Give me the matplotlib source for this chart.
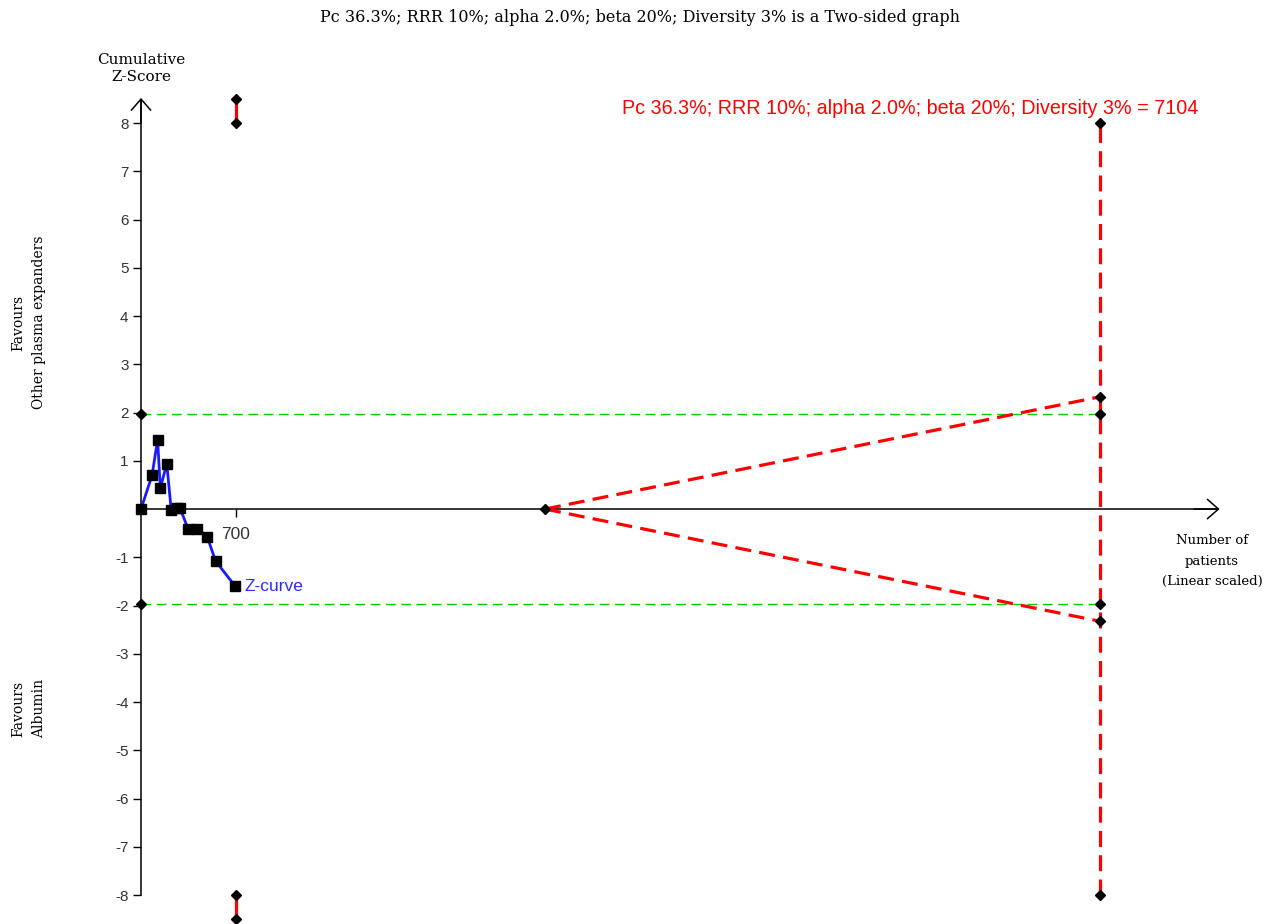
import matplotlib
matplotlib.use("Agg")
import matplotlib.pyplot as plt

# Cumulative meta-analysis: patients accrued and cumulative Z-score
patients = [0, 82, 123, 143, 191, 224, 267, 289, 350, 414, 490, 553, 698]
z_scores = [0.0, 0.70, 1.44, 0.43, 0.94, -0.03, 0.02, 0.02, -0.42, -0.42, -0.57, -1.08, -1.60]

# Trial sequential analysis settings
required_size = 7104          # required information size
boundary_start = 2993         # patients where the alpha-spending boundary leaves zero
boundary_end = 2.326          # boundary Z at the required information size
conventional = 1.96           # conventional two-sided 5% significance
off_scale_x = 700             # boundary point beyond the plotted range
off_scale_z = 8.5
z_limit = 8

y_ticks = [-8, -7, -6, -5, -4, -3, -2, -1, 1, 2, 3, 4, 5, 6, 7, 8]
x_ticks = [700]

title = "Pc 36.3%; RRR 10%; alpha 2.0%; beta 20%; Diversity 3% is a Two-sided graph"
ris_label = "Pc 36.3%; RRR 10%; alpha 2.0%; beta 20%; Diversity 3% = 7104"

serif = ["DejaVu Serif"]
sans = ["Liberation Sans", "DejaVu Sans"]

fig = plt.figure(figsize=(12.72, 9.24), dpi=100)
ax = fig.add_axes([0, 0, 1, 1])
ax.set_xlim(-1044.5, 8378)
ax.set_ylim(-8.60, 10.55)

# axes through the origin
for side in ("top", "right"):
    ax.spines[side].set_visible(False)
ax.spines["left"].set_position(("data", 0))
ax.spines["bottom"].set_position(("data", 0))
ax.spines["left"].set_bounds(-8.0, 8.45)
ax.spines["bottom"].set_bounds(0, 7960)
for side in ("left", "bottom"):
    ax.spines[side].set_linewidth(1.1)
    ax.spines[side].set_color("black")
ax.set_yticks(y_ticks)
ax.set_yticklabels([str(t) for t in y_ticks])
ax.set_xticks(x_ticks)
ax.set_xticklabels([str(t) for t in x_ticks])
ax.tick_params(axis="y", direction="out", length=6, width=1.0, pad=3,
               labelsize=11, labelcolor="#333333")
ax.tick_params(axis="x", direction="out", length=6, width=1.0, pad=7,
               labelsize=12.5, labelcolor="#333333")
for lbl in ax.get_xticklabels() + ax.get_yticklabels():
    lbl.set_fontfamily(sans)
ax.patch.set_visible(False)

# arrow heads on both axes
arrow = dict(arrowstyle="->,head_length=0.8,head_width=0.7", lw=1.1, color="black",
             shrinkA=0, shrinkB=0)
ax.annotate("", xy=(7990, 0), xytext=(7800, 0), arrowprops=arrow)
ax.annotate("", xy=(0, 8.52), xytext=(0, 8.0), arrowprops=arrow)

# conventional boundaries
for sgn in (1, -1):
    ax.plot([0, required_size], [sgn * conventional] * 2, color="#00cc00",
            lw=1.0, dashes=(7, 4), zorder=2)

# alpha-spending boundaries
for sgn in (1, -1):
    ax.plot([boundary_start, required_size], [0, sgn * boundary_end], color="red",
            lw=2.3, dashes=(5, 2.6), zorder=3)
    ax.plot([off_scale_x, off_scale_x], [sgn * z_limit, sgn * off_scale_z],
            color="red", lw=2.3, solid_capstyle="butt", zorder=3)

# required information size
ax.plot([required_size, required_size], [-z_limit, z_limit], color="red",
        lw=2.3, dashes=(5, 2.6), zorder=3)

# boundary markers
mk = dict(marker="D", color="black", markersize=5.0, linestyle="none", zorder=5)
ax.plot([0, 0, required_size, required_size], [conventional, -conventional,
        conventional, -conventional], **mk)
ax.plot([required_size, required_size, required_size, required_size],
        [boundary_end, -boundary_end, z_limit, -z_limit], **mk)
ax.plot([boundary_start], [0], **mk)
ax.plot([off_scale_x] * 4, [z_limit, off_scale_z, -z_limit, -off_scale_z], **mk)

# cumulative Z-curve
ax.plot(patients, z_scores, color="#1a1aff", lw=2.0, zorder=6)
ax.plot(patients, z_scores, marker="s", color="black", markersize=7.5,
        linestyle="none", zorder=7)
ax.text(patients[-1] + 65, z_scores[-1], "Z-curve", color="#2b2bff",
        fontsize=12.5, family=sans, va="center", ha="left")

# texts
fig.text(0.503, 0.981, title, ha="center", va="center", fontsize=11.5, family=serif)
ax.text(0, 9.13, "Cumulative\nZ-Score", ha="center", va="center", fontsize=11,
        family=serif, linespacing=1.3)
ax.text(7934, -1.08, "Number of\npatients\n(Linear scaled)", ha="center", va="center",
        fontsize=9.5, family=serif, linespacing=1.75)
ax.text(7830, 8.31, ris_label, ha="right", va="center", color="red",
        fontsize=14.2, family=sans)
fig.text(0.0225, 0.651, "Favours\nOther plasma expanders", rotation=90, ha="center",
         va="center", fontsize=10, family=serif, linespacing=1.6)
fig.text(0.0225, 0.233, "Favours\nAlbumin", rotation=90, ha="center",
         va="center", fontsize=10, family=serif, linespacing=1.6)

fig.savefig("out.png", dpi=100, facecolor="white")
